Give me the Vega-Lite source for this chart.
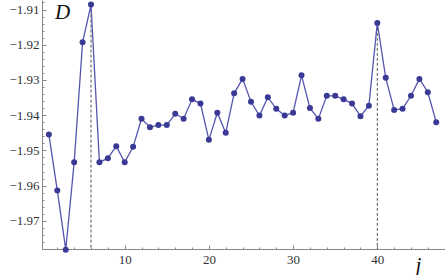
{
  "$schema": "https://vega.github.io/schema/vega-lite/v6.json",
  "width": 403,
  "height": 249,
  "autosize": "none",
  "padding": {"left": 42, "top": 0, "right": 0, "bottom": 26},
  "background": "white",
  "config": {"view": {"stroke": null}},
  "data": {"values": [
    {"j": 1, "D": -1.9455}, {"j": 2, "D": -1.9614}, {"j": 3, "D": -1.9782}, {"j": 4, "D": -1.9534},
    {"j": 5, "D": -1.9193}, {"j": 6, "D": -1.9086}, {"j": 7, "D": -1.9534}, {"j": 8, "D": -1.9522},
    {"j": 9, "D": -1.9488}, {"j": 10, "D": -1.9534}, {"j": 11, "D": -1.9490}, {"j": 12, "D": -1.9410},
    {"j": 13, "D": -1.9434}, {"j": 14, "D": -1.9428}, {"j": 15, "D": -1.9428}, {"j": 16, "D": -1.9396},
    {"j": 17, "D": -1.9410}, {"j": 18, "D": -1.9355}, {"j": 19, "D": -1.9367}, {"j": 20, "D": -1.9470},
    {"j": 21, "D": -1.9393}, {"j": 22, "D": -1.9450}, {"j": 23, "D": -1.9338}, {"j": 24, "D": -1.9297},
    {"j": 25, "D": -1.9362}, {"j": 26, "D": -1.9401}, {"j": 27, "D": -1.9349}, {"j": 28, "D": -1.9382},
    {"j": 29, "D": -1.9401}, {"j": 30, "D": -1.9393}, {"j": 31, "D": -1.9287}, {"j": 32, "D": -1.9380},
    {"j": 33, "D": -1.9410}, {"j": 34, "D": -1.9345}, {"j": 35, "D": -1.9345}, {"j": 36, "D": -1.9355},
    {"j": 37, "D": -1.9367}, {"j": 38, "D": -1.9403}, {"j": 39, "D": -1.9373}, {"j": 40, "D": -1.9138},
    {"j": 41, "D": -1.9294}, {"j": 42, "D": -1.9385}, {"j": 43, "D": -1.9382}, {"j": 44, "D": -1.9345},
    {"j": 45, "D": -1.9297}, {"j": 46, "D": -1.9335}, {"j": 47, "D": -1.9420}
  ]},
  "layer": [
    {
      "transform": [{"filter": "datum.j == 6 || datum.j == 40"}],
      "mark": {"type": "rule", "color": "#555555", "strokeDash": [3, 2], "strokeWidth": 1},
      "encoding": {
        "x": {"field": "j", "type": "quantitative", "scale": {"domain": [0.18, 48.04], "nice": false, "zero": false},
          "axis": {"values": [2,4,6,8,12,14,16,18,22,24,26,28,32,34,36,38,42,44,46,48], "labels": false, "domain": false, "grid": false, "tickSize": -2, "tickColor": "#888888", "title": null, "orient": "bottom"}},
        "y": {"field": "D", "type": "quantitative", "scale": {"domain": [-1.978, -1.9073], "nice": false, "zero": false},
          "axis": {"values": [-1.978,-1.976,-1.974,-1.972,-1.968,-1.966,-1.964,-1.962,-1.958,-1.956,-1.954,-1.952,-1.948,-1.946,-1.944,-1.942,-1.938,-1.936,-1.934,-1.932,-1.928,-1.926,-1.924,-1.922,-1.918,-1.916,-1.914,-1.912,-1.908], "labels": false, "domain": false, "grid": false, "tickSize": -2, "tickColor": "#888888", "title": null, "orient": "left"}},
        "y2": {"datum": -1.978}
      }
    },
    {
      "mark": {"type": "line", "color": "#5555b0", "strokeWidth": 1.3},
      "encoding": {
        "x": {"field": "j", "type": "quantitative",
          "axis": {"values": [10, 20, 30, 40], "grid": false, "domainColor": "#888888", "tickColor": "#888888", "tickSize": -4, "labelPadding": 8,
            "labelFont": "Liberation Serif", "labelFontSize": 13, "labelColor": "#333333",
            "title": "j", "titleFont": "Liberation Serif", "titleFontStyle": "italic", "titleFontWeight": "normal", "titleFontSize": 21, "titleColor": "#111111",
            "titleX": 376, "titleY": 16, "titleAlign": "center", "titleBaseline": "middle", "orient": "bottom"}},
        "y": {"field": "D", "type": "quantitative",
          "axis": {"values": [-1.97, -1.96, -1.95, -1.94, -1.93, -1.92, -1.91], "format": ".2f", "labelExpr": "replace(format(datum.value, '.2f'), '-', '\u2212')", "grid": false, "domainColor": "#888888", "tickColor": "#888888", "tickSize": -4, "labelPadding": 7,
            "labelFont": "Liberation Serif", "labelFontSize": 13, "labelColor": "#333333",
            "title": "D", "titleFont": "Liberation Serif", "titleFontStyle": "italic", "titleFontWeight": "normal", "titleFontSize": 21, "titleColor": "#111111",
            "titleX": 20, "titleY": 12, "titleAngle": 0, "titleAlign": "center", "titleBaseline": "middle", "orient": "left"}}
      }
    },
    {
      "mark": {"type": "point", "filled": true, "color": "#3a3a96", "size": 36, "opacity": 1},
      "encoding": {
        "x": {"field": "j", "type": "quantitative", "axis": null},
        "y": {"field": "D", "type": "quantitative", "axis": null}
      }
    }
  ],
  "resolve": {"axis": {"x": "independent", "y": "independent"}}
}
